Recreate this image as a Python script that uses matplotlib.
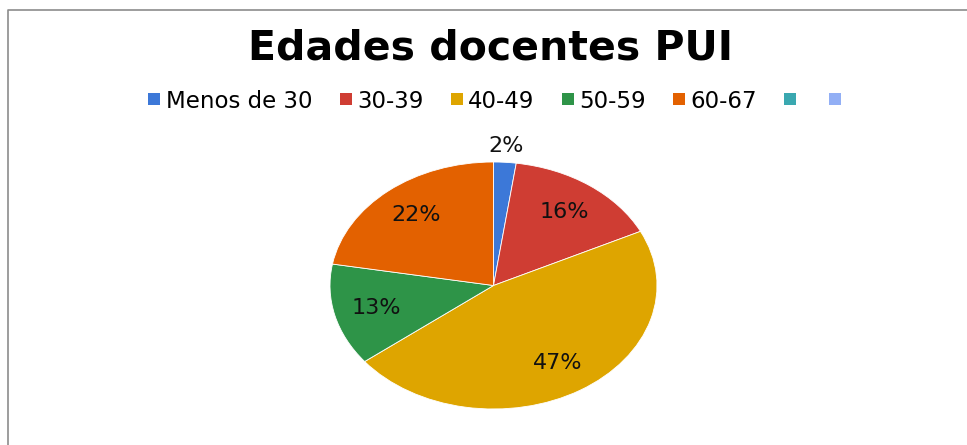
import numpy as np
import matplotlib
matplotlib.use("Agg")
import matplotlib.pyplot as plt
from matplotlib.lines import Line2D

# data (counts give 2/16/47/13/22 %)
categories = ["Menos de 30", "30-39", "40-49", "50-59", "60-67", "", ""]
counts = [1, 7, 21, 6, 10]
colors = ["#3c78d8", "#cf3d33", "#dea500", "#2e9448", "#e36100", "#3aa8b0", "#92aff5"]
label_dist = [1.13, 0.74, 0.74, 0.74, 0.74]

plt.rcParams["font.family"] = ["DejaVu Sans"]

W, H = 967, 445
fig = plt.figure(figsize=(W / 100, H / 100), dpi=100)

# pie area (stretched ellipse like the original)
left, right, top, bottom = 330, 657, 162, 409
ax = fig.add_axes([left / W, 1 - bottom / H, (right - left) / W, (bottom - top) / H])
wedges, _ = ax.pie(counts, colors=colors[:len(counts)], startangle=90, counterclock=False,
                   wedgeprops=dict(edgecolor="white", linewidth=0.6))
total = sum(counts)
for w, c, r in zip(wedges, counts, label_dist):
    ang = np.deg2rad((w.theta1 + w.theta2) / 2)
    ax.text(r * np.cos(ang), r * np.sin(ang), f"{100 * c / total:.0f}%",
            ha="center", va="center", fontsize=16, color="#111111")
ax.set_aspect("auto")
ax.set_xlim(-1, 1)
ax.set_ylim(-1, 1)
ax.axis("off")

fig.text(490 / W, 1 - 48 / H, "Edades docentes PUI", ha="center", va="center",
         fontsize=29.5, fontweight="bold", color="black")

handles = [Line2D([], [], ls="none", marker="s", markersize=8, color=c, markeredgewidth=0)
           for c in colors]
fig.legend(handles, categories, loc="center", bbox_to_anchor=(497 / W, 1 - 101 / H),
           ncol=len(categories), frameon=False, fontsize=16.5, handlelength=0.6,
           handletextpad=0.2, columnspacing=1.15, borderpad=0)

# chart frame (left and top edges visible)
frame_col = "#8c8c8c"
fig.add_artist(Line2D([8 / W, 8 / W, 1], [0, 1 - 10 / H, 1 - 10 / H],
                      transform=fig.transFigure, color=frame_col, lw=1.2))

fig.savefig("out.png", dpi=100)
